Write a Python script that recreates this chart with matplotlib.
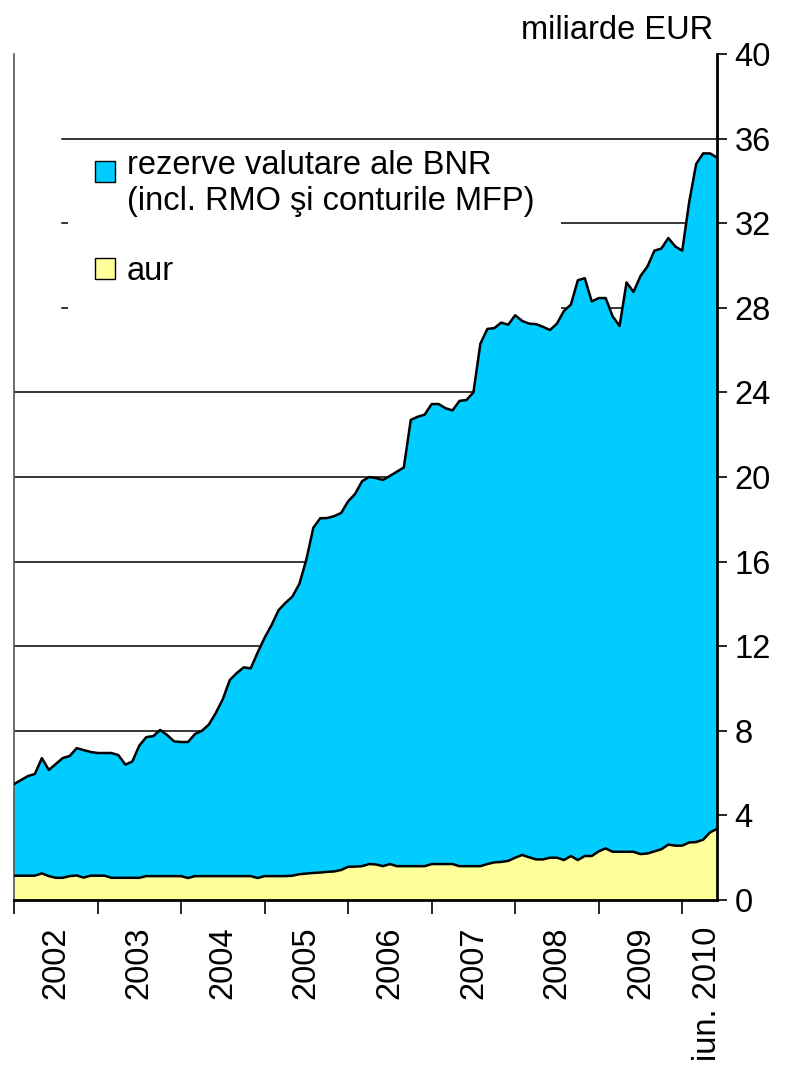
import numpy as np
import matplotlib.pyplot as plt
from matplotlib.patches import Patch, Rectangle
from matplotlib.legend_handler import HandlerPatch

plt.rcParams['font.family'] = ['Liberation Sans', 'DejaVu Sans']

# monthly values, ian. 2002 - iun. 2010, miliarde EUR
total_rezerve = [
    5.48, 5.67, 5.86, 5.96, 6.71, 6.15, 6.43, 6.71, 6.81, 7.18, 7.09, 7.00,
    6.95, 6.95, 6.95, 6.85, 6.40, 6.55, 7.30, 7.70, 7.75, 8.04, 7.80, 7.50,
    7.47, 7.47, 7.85, 8.00, 8.30, 8.85, 9.50, 10.40, 10.73, 11.00, 10.95, 11.70,
    12.40, 13.00, 13.70, 14.05, 14.35, 14.95, 16.10, 17.60, 18.05, 18.06, 18.15, 18.30,
    18.85, 19.20, 19.80, 20.00, 19.95, 19.86, 20.05, 20.25, 20.45, 22.70, 22.85, 22.95,
    23.45, 23.45, 23.25, 23.15, 23.60, 23.64, 24.00, 26.30, 27.00, 27.04, 27.30, 27.20,
    27.65, 27.38, 27.25, 27.23, 27.10, 26.95, 27.25, 27.85, 28.15, 29.30, 29.40, 28.30,
    28.46, 28.46, 27.60, 27.14, 29.20, 28.75, 29.50, 29.95, 30.70, 30.80, 31.30, 30.90,
    30.70, 33.00, 34.80, 35.30, 35.30, 35.10,
]
aur = [
    1.15, 1.15, 1.15, 1.15, 1.26, 1.13, 1.05, 1.05, 1.13, 1.16, 1.06, 1.15,
    1.15, 1.15, 1.05, 1.05, 1.05, 1.05, 1.05, 1.13, 1.13, 1.13, 1.13, 1.13,
    1.13, 1.04, 1.13, 1.13, 1.13, 1.13, 1.13, 1.13, 1.13, 1.13, 1.13, 1.04,
    1.13, 1.13, 1.13, 1.13, 1.15, 1.22, 1.25, 1.28, 1.30, 1.33, 1.35, 1.42,
    1.57, 1.58, 1.60, 1.70, 1.68, 1.60, 1.70, 1.60, 1.60, 1.60, 1.60, 1.60,
    1.70, 1.70, 1.70, 1.70, 1.60, 1.60, 1.60, 1.60, 1.70, 1.78, 1.80, 1.85,
    2.00, 2.13, 2.02, 1.92, 1.92, 2.00, 2.00, 1.89, 2.08, 1.89, 2.08, 2.08,
    2.30, 2.44, 2.28, 2.28, 2.28, 2.28, 2.17, 2.20, 2.30, 2.40, 2.62, 2.57,
    2.57, 2.72, 2.74, 2.85, 3.20, 3.36,
]
year_labels = ['2002', '2003', '2004', '2005', '2006', '2007', '2008', '2009', 'iun. 2010']
legend_labels = ['rezerve valutare ale BNR\n(incl. RMO şi conturile MFP)', 'aur']

luni = np.arange(len(total_rezerve))
aur = np.array(aur)
rezerve_valutare = np.array(total_rezerve) - aur

FS = 23.5
cyan = '#00CCFF'
galben = '#FFFF99'

fig = plt.figure(figsize=(7.87, 10.82), dpi=100)
ax = fig.add_axes([0.0178, 0.1682, 0.8933, 0.7819])

ax.fill_between(luni, 0, aur, facecolor=galben, edgecolor='none', zorder=2)
ax.fill_between(luni, aur, aur + rezerve_valutare, facecolor=cyan, edgecolor='none', zorder=2)
ax.plot(luni, aur, color='black', lw=1.8, zorder=3)
ax.plot(luni, aur + rezerve_valutare, color='black', lw=1.8, zorder=3)

ax.set_xlim(0, len(luni) - 1)
ax.set_ylim(0, 40)

# grid lines (upper ones start a bit right of the axis, as in the source)
for v in range(4, 40, 4):
    ax.axhline(v, xmin=0.068 if v >= 28 else 0, color='black', lw=1.1,
               zorder=1.5 if v == 36 else 0.5)

ax.yaxis.tick_right()
ax.set_yticks(range(0, 41, 4))
ax.tick_params(axis='y', direction='out', length=7, width=1.2, pad=5.5, labelsize=FS)

ax.set_xticks(range(0, len(luni), 12))
ax.set_xticklabels([])
ax.set_xticks([6 + 12 * k for k in range(8)] + [99.7], minor=True)
ax.set_xticklabels(year_labels, minor=True, rotation=90, fontsize=FS)
ax.tick_params(axis='x', which='major', direction='out', length=10, width=1.2)
ax.tick_params(axis='x', which='minor', length=0, pad=19)

ax.spines['top'].set_visible(False)
ax.spines['left'].set_color('#555555')
ax.spines['left'].set_linewidth(1.2)
ax.spines['right'].set_linewidth(2)
ax.spines['bottom'].set_linewidth(2)


def patrat_sus(legend, orig_handle, xdescent, ydescent, width, height, fontsize):
    # keep the square next to the first line of a two-line label
    return Rectangle((-xdescent, -ydescent + 0.38 * fontsize), width, height)


handles = [Patch(facecolor=cyan, edgecolor='black', lw=1),
           Patch(facecolor=galben, edgecolor='black', lw=1)]
leg = ax.legend(handles, legend_labels, loc='upper left',
                bbox_to_anchor=(68 / 787, 1 - 123 / 1082), bbox_transform=fig.transFigure,
                borderaxespad=0, borderpad=0.82, frameon=True, fancybox=False,
                facecolor='white', edgecolor='none', framealpha=1,
                handlelength=0.62, handleheight=0.62, handletextpad=0.37,
                labelspacing=1.2, fontsize=FS,
                handler_map={handles[0]: HandlerPatch(patch_func=patrat_sus)})
leg.set_zorder(1)

fig.text(0.906, 0.964, 'miliarde EUR', ha='right', va='baseline', fontsize=FS)

fig.savefig('out.png', dpi=100)
